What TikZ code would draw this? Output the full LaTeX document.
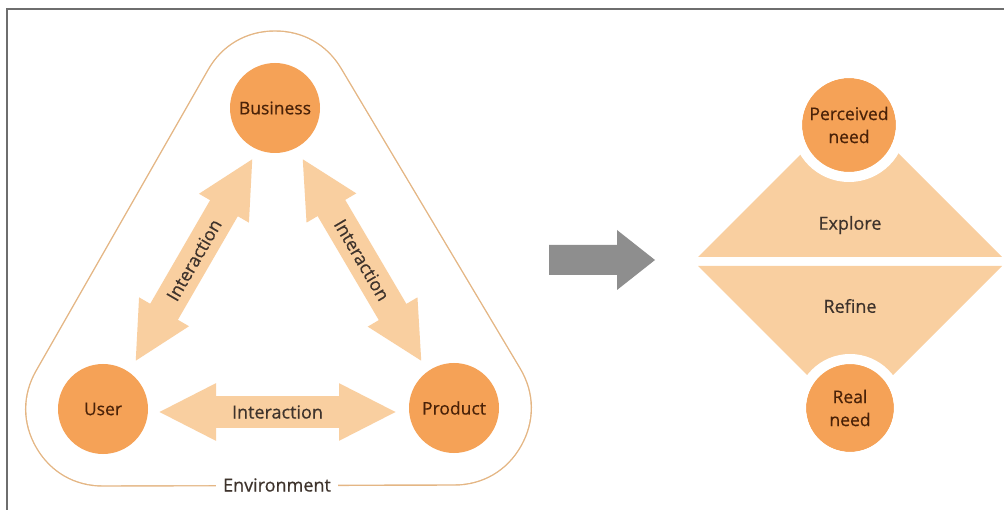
\documentclass[tikz,border=0pt]{standalone}
\usepackage{fontspec}
\setmainfont{Open Sans}
\newfontface\semib{Open Sans}[FakeBold=0.5]
\usetikzlibrary{arrows.meta,calc}
\definecolor{circfill}{HTML}{F5A257}
\definecolor{peach}{HTML}{F9CFA0}
\definecolor{envline}{HTML}{E4B684}
\definecolor{circtext}{HTML}{4A2208}
\definecolor{lbltext}{HTML}{3E332C}
\definecolor{framegray}{HTML}{6E6E6E}
\definecolor{bigarrow}{HTML}{8E8E8E}
\pgfdeclarelayer{bg}
\pgfsetlayers{bg,main}
\tikzset{
  bubble/.style={circle, fill=circfill, minimum size=90pt, inner sep=0pt, text=circtext, font=\semib\fontsize{17.5}{23}\selectfont, align=center},
  interact/.style={line width=32pt, draw=peach, {Triangle[length=58pt,width=53pt]}-{Triangle[length=58pt,width=53pt]}},
  ilabel/.style={text=lbltext, font=\semib\fontsize{18}{23}\selectfont},
  halfdiamond/.style={fill=peach},
  ring/.style={draw=white, line width=10pt}
}
\begin{document}
\begin{tikzpicture}[x=1pt,y=-1pt]
\useasboundingbox (0,0) rectangle (1004,510);
% frame
\draw[framegray, line width=2pt] (7,510) -- (7,9.5) -- (1004,9.5);
% circles of left diagram
\node[bubble] (bus) at (275,108) {Business};
\node[bubble] (user) at (103,409) {User};
\node[bubble] (prod) at (454,408) {Product};
% environment hull
\begin{pgfonlayer}{bg}
\draw[envline, line width=155.4pt, line join=round] (bus.center) -- (user.center) -- (prod.center) -- cycle;
\draw[white, fill=white, line width=152.6pt, line join=round] (bus.center) -- (user.center) -- (prod.center) -- cycle;
\end{pgfonlayer}
\node[fill=white, inner xsep=7pt, inner ysep=2pt, text=lbltext, font=\semib\fontsize{18}{23}\selectfont] (env) at (277,485) {Environment};
% interaction arrows
\draw[interact] ($(user.center)+(55,3)$) -- ($(prod.center)+(-57,4)$) node[midway, ilabel] {Interaction};
\draw[interact] ($(user.center)+(32,-47)$) -- ($(bus.center)+(-22,50)$) node[midway, sloped, ilabel] {Interaction};
\draw[interact] ($(bus.center)+(27,50)$) -- ($(prod.center)+(-32,-46)$) node[midway, sloped, ilabel] {Interaction};
% big gray arrow
\fill[bigarrow] (549,245) -- (617,245) -- (617,230) -- (655,260) -- (617,290) -- (617,275) -- (549,275) -- cycle;
% right diagram
\fill[halfdiamond] (698,257) -- (1002,257) -- (850,105) -- cycle;
\fill[halfdiamond] (698,266) -- (1002,266) -- (850,418) -- cycle;
\node[ilabel] (explore) at (850,225) {Explore};
\node[ilabel] (refine) at (850,306) {Refine};
\node[bubble, minimum size=94pt] (perc) at (849,125) {Perceived\\need};
\draw[ring] (perc.center) circle (52pt);
\node[bubble, minimum size=88pt] (real) at (850,408) {Real\\need};
\draw[ring] (real.center) circle (49pt);
\end{tikzpicture}
\end{document}
